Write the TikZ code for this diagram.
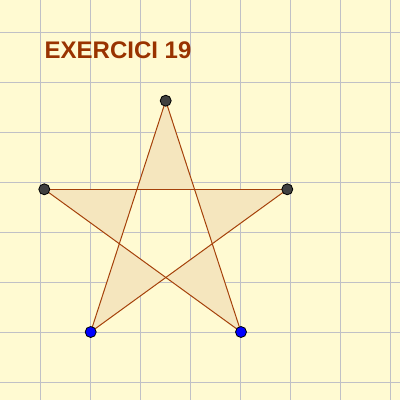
\documentclass[tikz,border=0pt]{standalone}
\usepackage{fontspec}
\setmainfont{Liberation Sans}
\definecolor{bg}{RGB}{255,250,210}
\definecolor{gridc}{RGB}{192,192,198}
\definecolor{starfill}{RGB}{245,230,190}
\definecolor{edge}{RGB}{165,65,10}
\definecolor{titlec}{RGB}{153,51,0}
\definecolor{darkpt}{RGB}{64,64,64}
\begin{document}
\begin{tikzpicture}[x=1pt,y=-1pt,
  pt/.style={circle,draw=black,line width=0.8pt,inner sep=0pt,minimum size=11pt},
  edgeline/.style={draw=edge,line width=1pt},
  gridline/.style={draw=gridc,line width=1.2pt}]
\fill[bg] (0,0) rectangle (400,400);
\useasboundingbox (0,0) rectangle (400,400);
\foreach \i in {0,...,7} {
  \draw[gridline] ({40.8+49.93*\i},0) -- ({40.8+49.93*\i},400);
  \draw[gridline] (0,{32.3+50*\i}) -- (400,{32.3+50*\i});
}
\coordinate (T) at (165.7,100.7);
\coordinate (L) at (44.3,189.3);
\coordinate (R) at (287.3,189.3);
\coordinate (BL) at (90.7,332);
\coordinate (BR) at (241,332);
\fill[starfill,even odd rule] (T) -- (BR) -- (L) -- (R) -- (BL) -- cycle;
\draw[edgeline] (T) -- (BR);
\draw[edgeline] (BR) -- (L);
\draw[edgeline] (L) -- (R);
\draw[edgeline] (R) -- (BL);
\draw[edgeline] (BL) -- (T);
\node[pt,fill=darkpt] (nT) at (T) {};
\node[pt,fill=darkpt] (nL) at (L) {};
\node[pt,fill=darkpt] (nR) at (R) {};
\node[pt,fill=blue] (nBL) at (BL) {};
\node[pt,fill=blue] (nBR) at (BR) {};
\node[anchor=base west,inner sep=0pt,text=titlec,font=\fontsize{24}{28}\selectfont\bfseries] (title) at (44.5,58.3) {EXERCICI 19};
\end{tikzpicture}
\end{document}
